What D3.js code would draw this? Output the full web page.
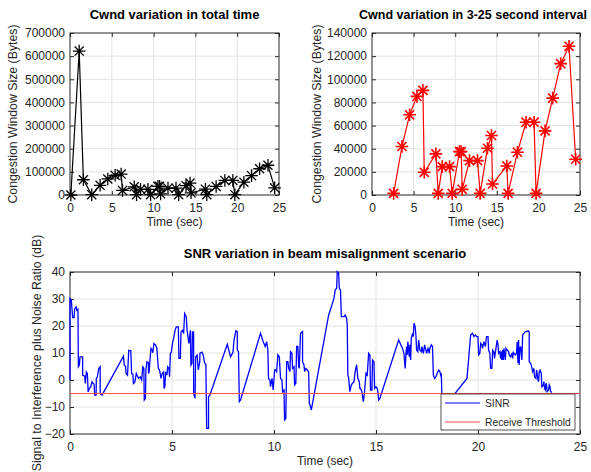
<!DOCTYPE html>
<html>
<head>
<meta charset="utf-8">
<script src="https://cdn.jsdelivr.net/npm/d3@7"></script>
<style>
  body { margin: 0; background: #fff; }
  svg { font-family: "Liberation Sans", Arial, Helvetica, sans-serif; }
  .tick text { fill: #262626; font-size: 12px; }
  .tick line { stroke: #262626; }
</style>
</head>
<body>
<svg width="591" height="472"></svg>
<script>
// congestion window samples in the 3-25 s interval
var cwndTime = [2.6, 3.6, 4.52, 5.4, 6.12, 6.28, 7.68, 7.96, 8.44, 9.32, 9.64, 10.52, 10.72, 10.84,
  11.72, 12.68, 13.0, 13.88, 14.36, 14.48, 16.2, 16.36, 17.48, 18.52, 19.48, 19.72, 20.8, 21.72,
  22.68, 23.68, 24.48];
var cwndValue = [1400, 41900, 69300, 85200, 90400, 19600, 35500, 1400, 24500, 24500, 1400, 37500,
  37500, 4900, 29700, 29700, 1400, 40400, 51400, 9500, 25100, 1400, 37000, 62900, 62900, 1400,
  55400, 83700, 113500, 128500, 30900];
// extra samples before 3 s (only in the total-time plot)
var startTime = [0.1, 1.1, 1.6];
var startValue = [0, 622000, 66000];

var sinrTime = [
  0, 0, 0.066, 0.13, 0.2, 0.23, 0.3, 0.33, 0.39, 0.41, 0.46, 0.49, 0.62, 0.62, 0.72, 0.75, 0.8, 0.85,
  0.89, 0.95, 1.02, 1.08, 1.13, 1.18, 1.21, 1.28, 1.29, 1.34, 1.41, 1.48, 1.48, 1.57, 2.62, 2.66,
  2.72, 2.75, 2.82, 2.88, 2.98, 3.02, 3.08, 3.11, 3.18, 3.25, 3.31, 3.36, 3.44, 3.51, 3.57, 3.62,
  3.64, 3.7, 3.72, 3.77, 3.84, 3.85, 3.88, 3.92, 3.97, 4.03, 4.06, 4.11, 4.2, 4.26, 4.33, 4.39,
  4.46, 4.52, 4.59, 4.61, 4.65, 4.69, 4.75, 4.79, 4.85, 4.88, 4.92, 4.97, 5.02, 5.08, 5.15, 5.21,
  5.31, 5.34, 5.41, 5.44, 5.51, 5.57, 5.62, 5.7, 5.74, 5.83, 5.9, 5.93, 5.98, 6.0, 6.06, 6.06,
  6.13, 6.16, 6.23, 6.29, 6.36,
  6.37, 6.47, 6.53, 6.6, 6.66, 6.7, 6.79, 6.79, 6.86, 7.71, 7.87, 7.99, 8.04, 8.13, 8.2, 8.2, 8.26,
  8.3, 8.36, 9.34, 9.47, 9.57, 9.64, 9.7, 9.73, 9.8, 9.83, 9.9, 9.96, 10.03,
  10.09, 10.13, 10.19, 10.26, 10.32, 10.39, 10.42, 10.49, 10.52, 10.58, 10.62, 10.68, 10.72, 10.78,
  10.81, 10.88, 10.91, 10.98, 11.01, 11.07, 11.11, 11.17, 11.21, 11.24, 11.3, 11.4, 11.4, 11.47,
  11.5, 11.56, 11.63, 11.7, 11.73, 11.79, 11.83, 12.68, 12.84, 12.94, 13.0, 13.07, 13.1, 13.17,
  13.2, 13.26, 13.3, 13.43, 13.49, 13.56, 13.59, 13.62, 13.66, 13.72, 13.79, 13.85, 13.92, 13.98,
  14.05, 14.11, 14.18, 14.21, 14.24, 14.31, 14.38, 14.44, 14.51, 14.57, 14.64, 14.7, 14.73, 14.8,
  14.83, 14.9, 14.93, 15.0, 15.06,
  15.09, 15.13, 15.19, 16.11, 16.3, 16.37, 16.43, 16.47, 16.5, 16.53, 16.56, 16.63, 16.66, 16.7,
  16.73, 16.79, 16.83, 16.86, 16.92, 16.96, 16.99, 17.05, 17.09, 17.15, 17.22, 17.25, 17.32, 17.35,
  17.38, 17.45, 17.48, 17.55, 17.61, 17.64, 17.71, 17.77, 17.81, 17.87, 17.94, 18.0, 18.07, 18.13,
  18.17, 18.2, 18.23, 18.25, 18.7, 18.88, 19.46, 19.64, 19.73, 19.8, 19.87, 19.93, 20.0,
  20.03, 20.09, 20.13, 20.19, 20.22, 20.29, 20.36, 20.42, 20.49, 20.52, 20.58, 20.62, 20.68, 20.72,
  20.78, 20.81, 20.88, 20.94, 20.98, 21.01, 21.07, 21.11, 21.14, 21.17, 21.21, 21.24, 21.27, 21.34,
  21.37, 21.43, 21.5, 21.53, 21.6, 21.66, 21.7, 21.73, 21.76, 21.83, 21.89, 21.92, 21.96, 21.99,
  22.02, 22.05, 22.09, 22.15, 22.19, 22.25, 22.32, 22.38, 22.45, 22.51, 22.51, 22.58, 22.61, 22.68,
  22.74, 22.77, 22.84, 22.87, 22.9, 22.94, 22.97, 23.0, 23.04, 23.1, 23.13, 23.2, 23.23, 23.26,
  23.3, 23.33, 23.36, 23.39, 23.46, 23.49, 23.53, 23.56, 23.62];
var sinrValue = [
  0, 30.1, 29.5, 23.1, 23.1, 26.4, 27.1, 25.8, 26.2, 4.9, 5.5, 8.6, 8.6, 1.8, 1.4, -1.3, 3.0, 2.4,
  -4.4, -3.1, -2.5, -0.7, -1.3, -1.5, -5.6, -5.6, 0.6, 1.2, 4.3, 4.9, -5.0, -5.6, 8.8, 5.5,
  5.1, 2.4, 1.8, 11.0, 10.8, 2.4, 2.2, -1.3, -0.7, 2.4, 1.4, 0.6, 1.2, 0, 4.9, 4.3,
  -7.4, -6.8, 3.7, 6.7, 6.4, 2.4, 3.0, 7.4, 11.7, 11.0, 10.1, 13.5, 12.9, 11.7, 4.3, 3.7,
  0.6, 2.4, 3.0, -3.1, -2.5, 3.0, 1.8, 4.9, 4.3, 1.2, 9.8, 10.4, 13.5, 15.4, 18.4, 19.7,
  19.7, 8.0, 8.0, 17.8, 18.4, 17.2, 24.6, 23.4, 18.4, 13.5, 18.4, 5.5, 6.1, 17.8, 17.8, -5.0,
  -6.8, 8.6, 9.2, 3.7, 6.7,
  9.9, 10.3, 9.3, 6.2, 5.8, -17.9, -17.9, -6.2, -5.5, 13.2, 8.6, 10.3, 14.8, 18.2, 17.9, 11.1, 10.5,
  -8.0, -7.4, 17.3, 14.2, 12.4, 14.2, 11.1, 0.6, 0, -2.5, 0.6, -3.7, 3.7,
  3.7, 3.1, 9.3, 8.6, 0.6, 0, -4.3, -3.7, -14.8, -14.2, 6.8, 6.8, 4.3, 3.1,
  10.5, 9.9, 4.3, 4.9, -1.8, -1.2, 12.4, 12.4, 4.9, 4.3, 17.3, 17.9, 6.8, 5.6,
  3.1, 4.3, 3.7, 3.1, -8.6, -9.9, -11.1, 24.1, 27.8, 30.3, 33.3, 34, 40.1, 39.5,
  34, 33.3, 23.5, 23.5, 24.1, 22.8, 20.4, 1.9, 0.6, -4.3, -1.8, -1.2, -0.6, 3.1,
  5.6, 0.6, -0.6, -3.1, -3.1, -4.3, -8.0, -4.3, 2.5, 1.9, 9.9, 9.3, -3.7, -3.7,
  7.4, 6.8, -3.1, -2.5, -3.1,
  -4.3, -7.4, -6.8, 14.8, 11.7, 9.9, 4.3, 9.9, 12.4, 9.3, 14.2, 8.6, 13.0, 7.4,
  15.4, 17.3, 16.1, 21, 19.8, 16.1, 11.1, 10.5, 14.8, 11.1, 10.5, 12.4, 9.9, 11.1,
  13.0, 11.1, 9.9, 11.7, 9.9, 11.7, 13.0, 12.4, 1.9, 0.6, 1.2, 2.5, 3.7, 3.1,
  1.9, 2.5, -5.5, -12, -12, -4.9, 0.6, 16.7, 17.3, 16.1, 16.7, 16.1, 16.1,
  9.3, 9.9, 13.6, 13.0, 11.7, 14.2, 12.4, 16.1, 16.1, 11.1, 9.9, 4.3, 4.3, 11.1,
  10.5, 8.0, 11.7, 14.8, 13.0, 9.9, 10.5, 8.0, 10.5, 7.4, 11.1, 7.4, 11.7, 7.4,
  11.7, 11.1, 10.5, 9.3, 8.6, 9.9, 8.0, 10.5, 9.9, 9.3, 9.9, 14.2, 6.2, 14.8,
  5.6, 11.7, 12.4, 7.4, 16.7, 17.3, 17.9, 17.9, 18.2, 17.9, 6.8, 6.2, 5.6, 3.1,
  4.3, 1.2, 0.6, 3.7, 2.5, 0, -0.6, 3.1, 3.7, 2.5, -2.5, -1.8, -0.6, -3.1,
  -3.7, -1.2, -1.8, -4.3, -3.7, -1.8, -2.5, -4.3, -4.6];
var threshold = -5;

var timeTicks = [0, 5, 10, 15, 20, 25];
var totalTicks = [0, 100000, 200000, 300000, 400000, 500000, 600000, 700000];
var intervalTicks = [0, 20000, 40000, 60000, 80000, 100000, 120000, 140000];
var sinrTicks = [-20, -10, 0, 10, 20, 30, 40];

var svg = d3.select("svg");

function makePanel(o) {
  var x = d3.scaleLinear().domain([0, 25]).range([o.left, o.right]);
  var y = d3.scaleLinear().domain([o.yTicks[0], o.yTicks[o.yTicks.length - 1]]).range([o.bottom, o.top]);
  var g = svg.append("g");

  // grid
  g.selectAll(".gx").data(timeTicks.slice(1, -1)).enter().append("line")
    .attr("x1", function (d) { return x(d); }).attr("x2", function (d) { return x(d); })
    .attr("y1", o.top).attr("y2", o.bottom)
    .attr("stroke", "#e3e3e3");
  g.selectAll(".gy").data(o.yTicks.slice(1, -1)).enter().append("line")
    .attr("y1", function (d) { return y(d); }).attr("y2", function (d) { return y(d); })
    .attr("x1", o.left).attr("x2", o.right)
    .attr("stroke", "#e3e3e3");

  // axes, ticks pointing inward on all four sides
  g.append("g").attr("transform", "translate(0," + o.bottom + ")")
    .call(d3.axisBottom(x).tickValues(timeTicks).tickSizeInner(-4).tickSizeOuter(0).tickPadding(8))
    .select(".domain").remove();
  g.append("g").attr("transform", "translate(0," + o.top + ")")
    .call(d3.axisTop(x).tickValues(timeTicks).tickSizeInner(-4).tickSizeOuter(0).tickFormat(""))
    .select(".domain").remove();
  g.append("g").attr("transform", "translate(" + o.left + ",0)")
    .call(d3.axisLeft(y).tickValues(o.yTicks).tickSizeInner(-4).tickSizeOuter(0).tickPadding(5)
      .tickFormat(d3.format("d")))
    .select(".domain").remove();
  g.append("g").attr("transform", "translate(" + o.right + ",0)")
    .call(d3.axisRight(y).tickValues(o.yTicks).tickSizeInner(-4).tickSizeOuter(0).tickFormat(""))
    .select(".domain").remove();

  g.append("rect")
    .attr("x", o.left).attr("y", o.top)
    .attr("width", o.right - o.left).attr("height", o.bottom - o.top)
    .attr("fill", "none").attr("stroke", "#262626").attr("stroke-width", 1);

  g.append("text")
    .attr("x", o.titleX || (o.left + o.right) / 2).attr("y", o.titleY)
    .attr("text-anchor", "middle").attr("font-weight", "bold")
    .attr("font-size", o.titleSize || "13px")
    .attr("fill", "#000")
    .text(o.title);
  g.append("text")
    .attr("x", (o.left + o.right) / 2).attr("y", o.bottom + 31)
    .attr("text-anchor", "middle").attr("font-size", "12px").attr("fill", "#262626")
    .text("Time (sec)");
  g.append("text")
    .attr("transform", "translate(" + o.yLabelX + "," + (o.top + o.bottom) / 2 + ") rotate(-90)")
    .attr("text-anchor", "middle").attr("font-size", "12.3px").attr("fill", "#262626")
    .text(o.yLabel);

  return { x: x, y: y, g: g };
}

function star(r) {
  var d = r * 0.72;
  return "M" + -r + ",0H" + r + "M0," + -r + "V" + r +
    "M" + -d + "," + -d + "L" + d + "," + d + "M" + -d + "," + d + "L" + d + "," + -d;
}

function drawCwnd(p, times, values, color, width) {
  var pts = times.map(function (t, i) { return [t, values[i]]; });
  var line = d3.line().x(function (d) { return p.x(d[0]); }).y(function (d) { return p.y(d[1]); });
  p.g.append("path").datum(pts)
    .attr("d", line).attr("fill", "none").attr("stroke", color).attr("stroke-width", 1.2);
  p.g.selectAll(".mk").data(pts).enter().append("path")
    .attr("transform", function (d) { return "translate(" + p.x(d[0]) + "," + p.y(d[1]) + ")"; })
    .attr("d", star(6.3)).attr("fill", "none").attr("stroke", color).attr("stroke-width", width);
}

// top left
var p1 = makePanel({
  left: 70, right: 279, top: 33, bottom: 195, yTicks: totalTicks, titleY: 19, yLabelX: 17,
  title: "Cwnd variation in total time", yLabel: "Congestion Window Size (Bytes)"
});
drawCwnd(p1, startTime.concat(cwndTime), startValue.concat(cwndValue), "#000", 1.3);

// top right
var p2 = makePanel({
  left: 372, right: 580, top: 33, bottom: 195, yTicks: intervalTicks, titleY: 19, yLabelX: 321,
  titleX: 473, titleSize: "12.5px",
  title: "Cwnd variation in 3-25 second interval", yLabel: "Congestion Window Size (Bytes)"
});
drawCwnd(p2, cwndTime, cwndValue, "#ff0000", 1.6);

// bottom
var p3 = makePanel({
  left: 70, right: 580, top: 272, bottom: 434, yTicks: sinrTicks, titleY: 258, yLabelX: 41,
  title: "SNR variation in beam misalignment scenario",
  yLabel: "Signal to Interference plus Noise Ratio (dB)"
});
var sinrPts = sinrTime.map(function (t, i) { return [t, sinrValue[i]]; });
p3.g.append("path").datum(sinrPts)
  .attr("d", d3.line().x(function (d) { return p3.x(d[0]); }).y(function (d) { return p3.y(d[1]); }))
  .attr("fill", "none").attr("stroke", "#0000ff").attr("stroke-width", 1.3);
p3.g.append("line")
  .attr("x1", p3.x(0)).attr("x2", p3.x(25))
  .attr("y1", p3.y(threshold)).attr("y2", p3.y(threshold))
  .attr("stroke", "#ff4d4d").attr("stroke-width", 1.2);

// legend
var leg = p3.g.append("g").attr("transform", "translate(441,394)");
leg.append("rect").attr("width", 134).attr("height", 36)
  .attr("fill", "#fff").attr("stroke", "#262626").attr("stroke-width", 0.8);
var legendItems = [["SINR", "#0000ff"], ["Receive Threshold", "#ff4d4d"]];
legendItems.forEach(function (d, i) {
  var yy = 9 + i * 19;
  leg.append("line").attr("x1", 4).attr("x2", 39).attr("y1", yy).attr("y2", yy)
    .attr("stroke", d[1]).attr("stroke-width", 1.1);
  leg.append("text").attr("x", 44).attr("y", yy + 4).attr("font-size", "10.3px")
    .attr("fill", "#262626").text(d[0]);
});
</script>
</body>
</html>
